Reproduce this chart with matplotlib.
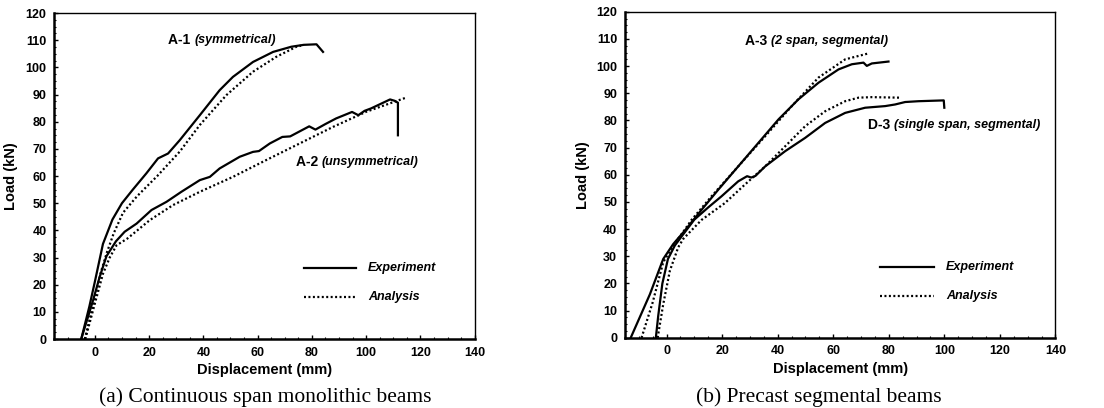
import matplotlib
matplotlib.use("Agg")
import matplotlib.pyplot as plt
from matplotlib.ticker import MultipleLocator

# ---------------- data ----------------
# Panel (a) Continuous span monolithic beams
a1_exp_x = [-5, -2, 0, 3, 6.5, 10, 14, 19, 23.3, 27, 31.3, 38.7, 46, 50.9, 58.3, 65.7, 72.4, 77, 81.7, 84.1]
a1_exp_y = [0, 12, 21, 35, 44, 50, 55, 61, 66.5, 68.3, 73.2, 82.4, 91.6, 96.5, 102, 105.7, 107.6, 108.3, 108.5, 105.7]
a1_ana_x = [-3.7, 0, 2.2, 4.5, 7, 10.4, 15.5, 23, 31.3, 38.7, 48.5, 58.3, 66.9, 74.3, 76]
a1_ana_y = [0, 15, 24.5, 32, 39, 46.5, 52.5, 60, 69, 78.8, 89.8, 98.4, 103.9, 107.6, 108]
a2_exp_x = [-5, -0.6, 1.8, 4.3, 7.8, 11, 15.4, 20.9, 26.4, 31.9, 38.7, 42.4, 46, 53.4, 58.3, 60.5,
            64.5, 69.1, 72, 79, 81.3, 84.9, 88.9, 94.8, 97.1, 99.4, 101.8, 108.8, 110.5, 111.7, 111.7]
a2_exp_y = [0, 14.4, 22.9, 30.5, 36, 39.5, 42.5, 47.5, 50.5, 54.2, 58.5, 59.7, 62.8, 67.1, 68.9, 69.2,
            72, 74.4, 74.6, 78.3, 77.1, 79.1, 81.2, 83.6, 82.4, 84, 84.9, 88.2, 87.7, 87, 75]
a2_ana_x = [-3.5, 0, 3, 5.5, 8, 12, 20.3, 28.8, 38.7, 50.9, 63.2, 75.5, 87.8, 100.1, 114.8]
a2_ana_y = [0, 13, 24, 30, 34.5, 37, 43.8, 49.3, 54.2, 59.7, 65.9, 72, 78.1, 83.7, 88.9]

# Panel (b) Precast segmental beams
a3_exp_x = [-12.9, -6, -1.2, 2.4, 6.6, 12.6, 18.6, 25.8, 33.1, 40.3, 47.5, 54.7, 61.9, 66.7, 70.9, 72.1, 73.9, 79.9]
a3_exp_y = [0, 16, 29, 34.5, 39.5, 47.1, 54.5, 63.1, 71.8, 80.4, 87.8, 93.9, 98.8, 100.7, 101.3, 100.1, 101, 101.7]
a3_ana_x = [-9, -5, -1.2, 2.4, 6, 9, 16.2, 25.8, 35.5, 45.1, 54.7, 64.3, 72.7]
a3_ana_y = [0, 13, 27.8, 34, 39, 43.4, 52.1, 63.1, 74.2, 85.3, 95.8, 102.5, 104.7]
d3_exp_x = [-3.85, -3, -1.5, 0.5, 3, 6.6, 10, 15, 19.8, 25.8, 29, 30.5, 32, 35.5, 42.7, 49.9, 57.1,
            64.3, 71.5, 78.7, 82.3, 85.9, 90.7, 99.8, 100]
d3_exp_y = [0, 8, 20, 29, 34, 38.9, 43.5, 48, 52.1, 57.6, 59.5, 59, 59.6, 63.1, 68.7, 73.6, 79.1,
            82.8, 84.7, 85.3, 85.9, 86.8, 87.1, 87.4, 84.7]
d3_ana_x = [-3.2, -1.2, 1.2, 4.2, 6, 12.6, 21, 28.2, 35.5, 42.7, 49.9, 57.1, 64.3, 69.1, 73.9, 84.1]
d3_ana_y = [0, 12.3, 24.7, 33.3, 36.4, 43.4, 49.6, 56.4, 63.1, 70.5, 77.9, 83.4, 87.1, 88.4, 88.6, 88.4]

x_ticks = [0, 20, 40, 60, 80, 100, 120, 140]
y_ticks = [0, 10, 20, 30, 40, 50, 60, 70, 80, 90, 100, 110, 120]

SANS = ["Liberation Sans", "DejaVu Sans"]
SERIF = ["Liberation Serif", "DejaVu Serif"]
DOT = (0, (0.9, 1.1))
LW = 1.6

fig = plt.figure(figsize=(11.04, 4.08), dpi=100)
axA = fig.add_axes([0.049, 0.169, 0.381, 0.799])
axB = fig.add_axes([0.566, 0.172, 0.390, 0.799])


def style(ax, ylab_x):
    ax.set_xlim(-15, 140)
    ax.set_ylim(0, 120)
    ax.set_xticks(x_ticks)
    ax.set_yticks(y_ticks)
    ax.xaxis.set_minor_locator(MultipleLocator(5))
    ax.yaxis.set_minor_locator(MultipleLocator(2.5))
    ax.tick_params(which="major", direction="in", length=3, width=1, pad=5.5)
    ax.tick_params(which="minor", direction="in", length=1.5, width=0.8)
    for lab in ax.get_xticklabels() + ax.get_yticklabels():
        lab.set_family(SANS)
        lab.set_fontweight("bold")
        lab.set_fontsize(9)
    ax.spines["left"].set_linewidth(1.8)
    ax.spines["bottom"].set_linewidth(1.8)
    ax.spines["top"].set_linewidth(1.0)
    ax.spines["right"].set_linewidth(1.0)
    ax.set_xlabel("Displacement (mm)", family=SANS, fontweight="bold", fontsize=10.5, labelpad=3)
    ax.set_ylabel("Load (kN)", family=SANS, fontweight="bold", fontsize=10.5)
    ax.yaxis.set_label_coords(ylab_x, 0.5)
    # legend drawn as in the original figure
    ax.plot([77, 96.2], [26, 26], color="black", lw=LW)
    ax.plot([77, 96.2], [15.5, 15.5], color="black", lw=LW, linestyle=DOT)
    ax.text(100.7, 26, "Experiment", family=SANS, fontweight="bold", style="italic", fontsize=9, va="center")
    ax.text(100.7, 15.5, "Analysis", family=SANS, fontweight="bold", style="italic", fontsize=9, va="center")


def label(ax, x, y, head, tail):
    t = ax.text(x, y, head + " ", family=SANS, fontweight="bold", fontsize=10, va="center")
    fig.canvas.draw()
    bb = t.get_window_extent()
    inv = ax.transData.inverted()
    x2 = inv.transform((bb.x1, bb.y0))[0]
    ax.text(x2, y, tail, family=SANS, fontweight="bold", style="italic", fontsize=9, va="center")


# panel (a)
axA.plot(a1_exp_x, a1_exp_y, color="black", lw=LW)
axA.plot(a1_ana_x, a1_ana_y, color="black", lw=LW, linestyle=DOT)
axA.plot(a2_exp_x, a2_exp_y, color="black", lw=LW)
axA.plot(a2_ana_x, a2_ana_y, color="black", lw=LW, linestyle=DOT)
style(axA, -0.085)
label(axA, 27, 110.2, "A-1", "(symmetrical)")
label(axA, 74, 65, "A-2", "(unsymmetrical)")

# panel (b)
axB.plot(a3_exp_x, a3_exp_y, color="black", lw=LW)
axB.plot(a3_ana_x, a3_ana_y, color="black", lw=LW, linestyle=DOT)
axB.plot(d3_exp_x, d3_exp_y, color="black", lw=LW)
axB.plot(d3_ana_x, d3_ana_y, color="black", lw=LW, linestyle=DOT)
style(axB, -0.080)
label(axB, 28.2, 109.3, "A-3", "(2 span, segmental)")
label(axB, 72.5, 78.5, "D-3", "(single span, segmental)")

fig.text(0.240, 0.027, "(a) Continuous span monolithic beams", family=SERIF, fontsize=15.5, ha="center", va="center")
fig.text(0.7416, 0.027, "(b) Precast segmental beams", family=SERIF, fontsize=15.5, ha="center", va="center")

fig.savefig("out.png", dpi=100)
